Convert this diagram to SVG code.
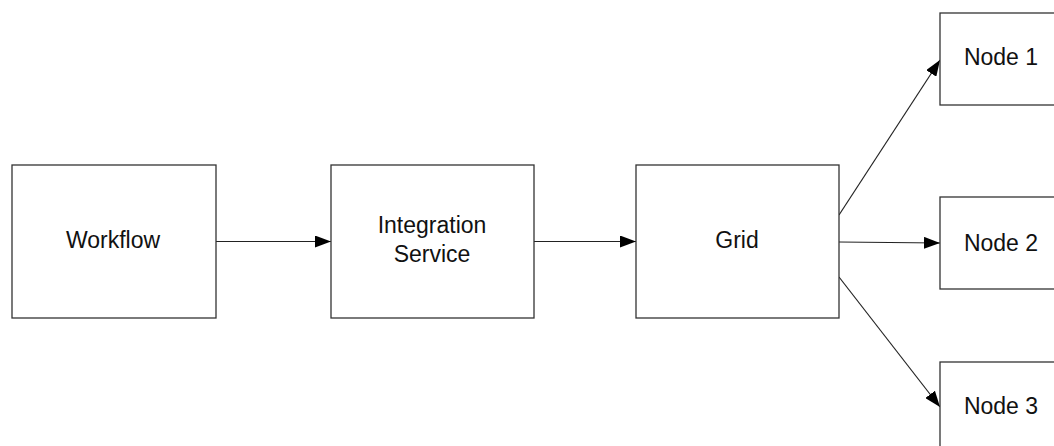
<svg xmlns="http://www.w3.org/2000/svg" width="1054" height="446" viewBox="0 0 1054 446">
<style>
.box{fill:#fff;stroke:#333;stroke-width:1.3}
.lbl{font-family:"Liberation Sans",Arial,sans-serif;font-size:23px;fill:#111;text-anchor:middle}
.edge{stroke:#222;stroke-width:1.2;fill:none;marker-end:url(#ah)}
</style>
<defs>
<marker id="ah" markerWidth="16" markerHeight="12" refX="16" refY="6" orient="auto" markerUnits="userSpaceOnUse">
<path d="M0,0 L16,6 L0,12 Z" fill="#000"/>
</marker>
</defs>
<rect width="1054" height="446" fill="#fff"/>
<g id="connectors">
<line class="edge" x1="216" y1="241.5" x2="331" y2="241.5"/>
<line class="edge" x1="534" y1="241.5" x2="636" y2="241.5"/>
<line class="edge" x1="839" y1="215" x2="940" y2="60"/>
<line class="edge" x1="839" y1="242" x2="940" y2="243"/>
<line class="edge" x1="839" y1="277" x2="940" y2="407"/>
</g>
<g id="workflow"><rect class="box" x="12" y="165" width="204" height="153"/><text class="lbl" x="113" y="248">Workflow</text></g>
<g id="integration"><rect class="box" x="331" y="165" width="203" height="153"/><text class="lbl" x="432" y="233">Integration</text><text class="lbl" x="432" y="262">Service</text></g>
<g id="grid"><rect class="box" x="636" y="165" width="203" height="153"/><text class="lbl" x="737" y="248">Grid</text></g>
<g id="node1"><rect class="box" x="940" y="13" width="130" height="92"/><text class="lbl" x="1001" y="65">Node 1</text></g>
<g id="node2"><rect class="box" x="940" y="197" width="130" height="92"/><text class="lbl" x="1001" y="251">Node 2</text></g>
<g id="node3"><rect class="box" x="940" y="362" width="130" height="92"/><text class="lbl" x="1001" y="414">Node 3</text></g>
</svg>
